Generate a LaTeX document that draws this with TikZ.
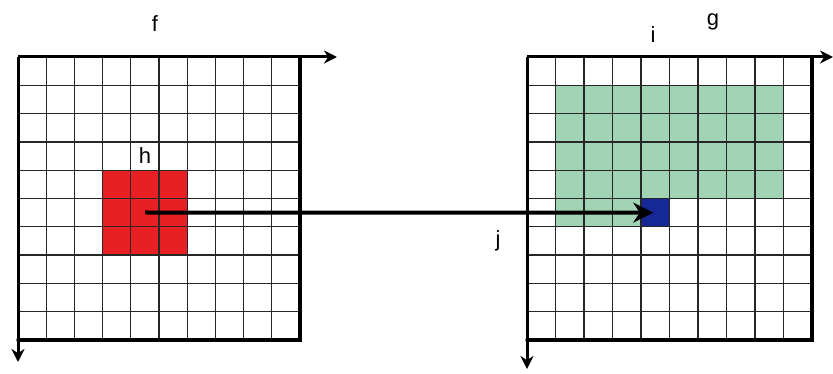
\documentclass[tikz,border=0pt]{standalone}
\usepackage{fontspec}
\setmainfont{Liberation Sans}
\usetikzlibrary{arrows.meta}
\definecolor{hred}{RGB}{232,32,36}
\definecolor{igreen}{RGB}{160,212,180}
\definecolor{jblue}{RGB}{22,40,150}
\tikzset{
  gridline/.style={line width=1.3pt, draw=black!85},
  axis/.style={line width=3pt, -{Stealth[length=13pt,width=13pt]}},
  border/.style={line width=3.5pt, line cap=round},
  lbl/.style={font=\fontsize{22}{22}\selectfont, inner sep=0pt},
  cell/.style={draw=none, inner sep=0pt, outer sep=0pt},
}
\begin{document}
\begin{tikzpicture}[x=1pt,y=-1pt]
\useasboundingbox (0,0) rectangle (833,374);
% ---------- left grid f ----------
\def\lx{18}\def\ly{57}\def\lw{28.2}\def\lh{28.3}
\node[cell, fill=hred, minimum width=84.6pt, minimum height=84.9pt] (hsq) at (145.0,212.5) {};
\foreach \i in {1,...,9} {
  \draw[gridline] ({\lx+\i*\lw},\ly) -- ({\lx+\i*\lw},340);
  \draw[gridline] (\lx,{\ly+\i*\lh}) -- (300,{\ly+\i*\lh});
}
\coordinate (fo) at (18,57);
\coordinate (fx) at (337,57);
\coordinate (fy) at (18,362);
\coordinate (ftr) at (300,57);
\coordinate (fbr) at (300,340);
\coordinate (fbl) at (18,340);
\draw[border] (ftr) -- (fbr) -- (fbl);
\draw[axis] (fo) -- (fx);
\draw[axis] (fo) -- (fy);
\node[lbl] (f) at (155,24) {f};
\node[lbl] (h) at (145,156) {h};
% ---------- right grid g ----------
\def\rx{527}\def\ry{57}\def\rw{28.5}\def\rh{28.3}
\fill[igreen] (555.5,85.3) rectangle (783.5,198.5);
\fill[igreen] (555.5,198.5) rectangle (641,226.8);
\node[cell, fill=jblue, minimum width=28.5pt, minimum height=28.3pt] (jsq) at (655.25,212.65) {};
\foreach \i in {1,...,9} {
  \draw[gridline] ({\rx+\i*\rw},\ry) -- ({\rx+\i*\rw},340);
  \draw[gridline] (\rx,{\ry+\i*\rh}) -- (812,{\ry+\i*\rh});
}
\coordinate (go) at (527,57);
\coordinate (gx) at (833,57);
\coordinate (gy) at (527,369);
\coordinate (gtr) at (812,57);
\coordinate (gbr) at (812,340);
\coordinate (gbl) at (527,340);
\draw[border] (gtr) -- (gbr) -- (gbl);
\draw[axis] (go) -- (gx);
\draw[axis] (go) -- (gy);
\node[lbl] (g) at (713,22) {g};
\node[lbl] (i) at (653,35) {i};
\node[lbl] (j) at (498,241) {j};
% ---------- mapping arrow ----------
\draw[line width=4pt, -{Stealth[length=20pt,width=20pt]}, shorten >=2pt] (hsq.center) -- (jsq.center);
\end{tikzpicture}
\end{document}
